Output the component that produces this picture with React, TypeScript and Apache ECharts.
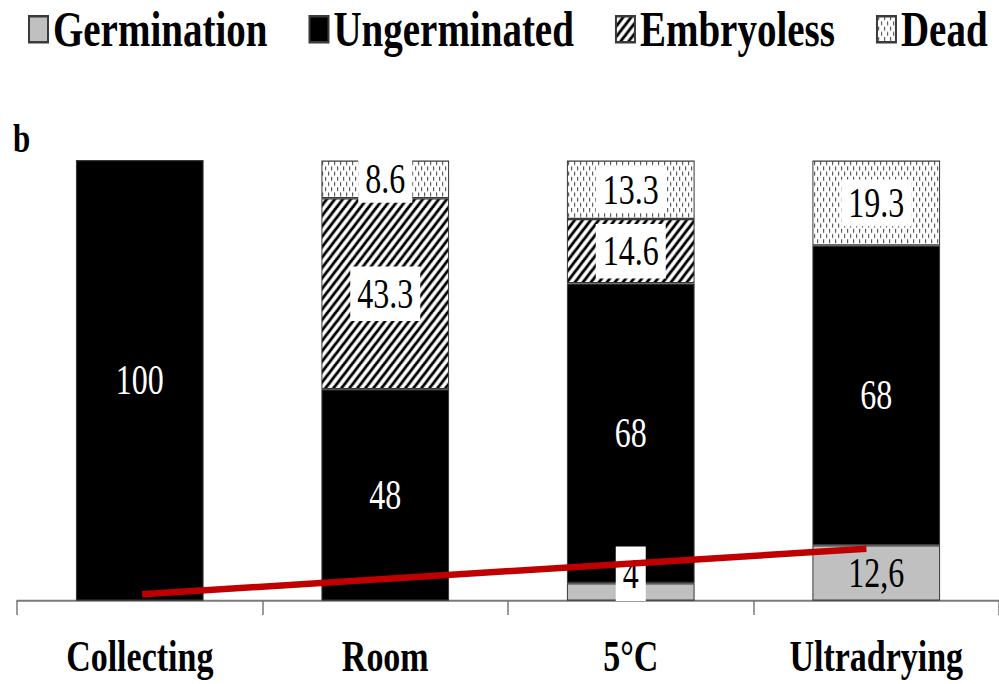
import React, { useEffect, useRef } from "react";
import * as echarts from "echarts";

// Seed fate after storage, % of seeds per treatment
const categories = ["Collecting", "Room", "5°C", "Ultradrying"];
const germination = [0, 0, 4, 12.6];
const ungerminated = [100, 48, 68, 68];
const embryoless = [0, 43.3, 14.6, 0];
const dead = [0, 8.6, 13.3, 19.3];
const seriesNames = ["Germination", "Ungerminated", "Embryoless", "Dead"];

// Germination trend line: x in category widths from the axis start, y in %
const trendX = [0.51, 3.46];
const trendY = [1.5, 11.8];

const panelLetter = "b";

const FIG_W = 999;
const FIG_H = 684;
const CHART_H = 526; // drawn at this height, then stretched vertically to FIG_H
const SERIF = "'Liberation Serif', 'Times New Roman', serif";

function hatchPattern(): HTMLCanvasElement {
  const c = document.createElement("canvas");
  c.width = 8;
  c.height = 8;
  const g = c.getContext("2d")!;
  g.fillStyle = "#fff";
  g.fillRect(0, 0, 8, 8);
  g.strokeStyle = "#000";
  g.lineWidth = 2.6;
  g.beginPath();
  g.moveTo(-2, 10);
  g.lineTo(10, -2);
  g.moveTo(-2, 2);
  g.lineTo(2, -2);
  g.moveTo(6, 10);
  g.lineTo(10, 6);
  g.stroke();
  return c;
}

function dotPattern(): HTMLCanvasElement {
  const c = document.createElement("canvas");
  c.width = 6;
  c.height = 8;
  const g = c.getContext("2d")!;
  g.fillStyle = "#fff";
  g.fillRect(0, 0, 6, 8);
  g.fillStyle = "#5a5a5a";
  g.fillRect(1, 0, 1.2, 3);
  g.fillRect(4, 4, 1.2, 3);
  return c;
}

export default function App() {
  const ref = useRef<HTMLDivElement>(null);

  useEffect(() => {
    if (!ref.current) return;
    const chart = echarts.init(ref.current, undefined, { renderer: "svg" });

    const labelBase = {
      show: true,
      position: "inside" as const,
      fontFamily: SERIF,
      fontSize: 32,
      color: "#000",
    };
    const border = { borderColor: "#3a3a3a", borderWidth: 1 };
    const asData = (values: number[]) => values.map((v) => (v === 0 ? null : v));
    const plain = (p: any) => String(p.value);

    const germData = germination.map((v) => {
      if (v === 0) return null;
      // a segment too thin for its number gets a white tag raised above it
      if (v < 8) {
        return {
          value: v,
          label: { backgroundColor: "#fff", padding: [5, 7], offset: [0, -14] },
        };
      }
      return v;
    });

    chart.setOption({
      animation: false,
      backgroundColor: "#fff",
      legend: {
        data: seriesNames,
        left: 28,
        top: 3,
        width: 990,
        padding: 0,
        itemGap: 41,
        itemWidth: 19,
        itemHeight: 20,
        icon: "rect",
        textStyle: {
          fontFamily: SERIF,
          fontWeight: "bold",
          fontSize: 39,
          color: "#000",
        },
      },
      graphic: [
        {
          type: "text",
          left: 13,
          top: 91,
          style: {
            text: panelLetter,
            font: `bold 31px ${SERIF}`,
            fill: "#000",
          },
        },
      ],
      grid: { left: 17, right: -2, top: 123, bottom: 64 },
      xAxis: [
        {
          type: "category",
          data: categories,
          axisLine: { lineStyle: { color: "#7a7a7a", width: 1.5 } },
          axisTick: { show: true, length: 11, lineStyle: { color: "#7a7a7a", width: 1.5 } },
          axisLabel: {
            fontFamily: SERIF,
            fontWeight: "bold",
            fontSize: 34,
            color: "#000",
            margin: 26,
          },
        },
        { type: "value", min: 0, max: 4, show: false },
      ],
      yAxis: { type: "value", min: 0, max: 100, show: false },
      series: [
        {
          name: seriesNames[0],
          type: "bar",
          stack: "total",
          barWidth: "52%",
          itemStyle: { color: "#c0c0c0", ...border },
          label: {
            ...labelBase,
            formatter: (p: any) => String(p.value).replace(".", ","),
          },
          data: germData,
        },
        {
          name: seriesNames[1],
          type: "bar",
          stack: "total",
          itemStyle: { color: "#000", ...border },
          label: { ...labelBase, color: "#fff", formatter: plain },
          data: asData(ungerminated),
        },
        {
          name: seriesNames[2],
          type: "bar",
          stack: "total",
          itemStyle: { color: { image: hatchPattern(), repeat: "repeat" }, ...border },
          label: { ...labelBase, backgroundColor: "#fff", padding: [5, 7], formatter: plain },
          data: asData(embryoless),
        },
        {
          name: seriesNames[3],
          type: "bar",
          stack: "total",
          itemStyle: { color: { image: dotPattern(), repeat: "repeat" }, ...border },
          label: { ...labelBase, backgroundColor: "#fff", padding: [2, 7], formatter: plain },
          data: asData(dead),
        },
        {
          name: "trend",
          type: "line",
          xAxisIndex: 1,
          yAxisIndex: 0,
          z: 10,
          symbol: "none",
          silent: true,
          lineStyle: { color: "#c00000", width: 5, cap: "butt" },
          data: trendX.map((x, i) => [x, trendY[i]]),
        },
      ],
    });

    return () => chart.dispose();
  }, []);

  return (
    <div
      style={{
        position: "absolute",
        left: 0,
        top: 0,
        width: FIG_W,
        height: FIG_H,
        overflow: "hidden",
        background: "#fff",
      }}
    >
      <div
        ref={ref}
        style={{
          width: FIG_W,
          height: CHART_H,
          transform: `scaleY(${FIG_H / CHART_H})`,
          transformOrigin: "0 0",
        }}
      />
    </div>
  );
}
